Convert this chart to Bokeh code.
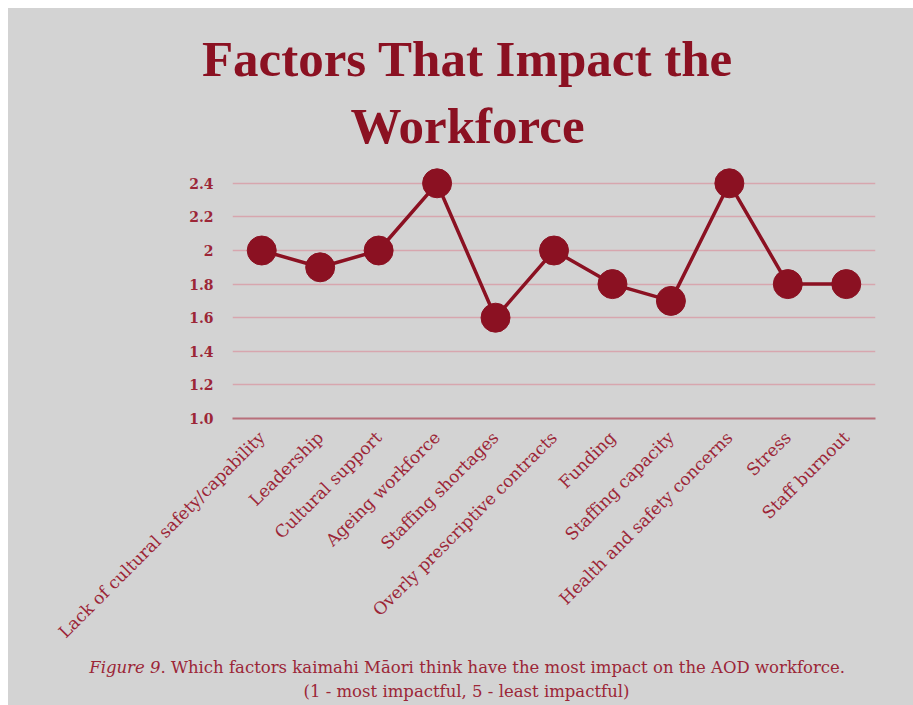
import math
from bokeh.plotting import figure
from bokeh.models import FactorRange, Range1d, FixedTicker, ColumnDataSource, Spacer
from bokeh.layouts import column, row
from bokeh.core.properties import value
from bokeh.embed import file_html
from bokeh.resources import INLINE

categories = [
    "Lack of cultural safety/capability",
    "Leadership",
    "Cultural support",
    "Ageing workforce",
    "Staffing shortages",
    "Overly prescriptive contracts",
    "Funding",
    "Staffing capacity",
    "Health and safety concerns",
    "Stress",
    "Staff burnout",
]
scores = [2.0, 1.9, 2.0, 2.4, 1.6, 2.0, 1.8, 1.7, 2.4, 1.8, 1.8]
y_ticks = [1.0, 1.2, 1.4, 1.6, 1.8, 2.0, 2.2, 2.4]
y_tick_labels = ["1.0", "1.2", "1.4", "1.6", "1.8", "2", "2.2", "2.4"]

title_lines = ["Factors That Impact the", "Workforce"]
caption_italic = "Figure 9"
caption_rest = ". Which factors kaimahi M\u0101ori think have the most impact on the AOD workforce."
caption_line2 = "(1 - most impactful, 5 - least impactful)"

BG = "#d3d3d3"
DARK = "#8b1122"
TXT = "#9c2637"
GRID = "#d7a6ae"
W = 905


def no_align(f):
    try:
        f.frame_align = False
    except Exception:
        pass
    return f


def text_panel(height):
    f = figure(width=W, height=height, x_range=Range1d(0, W), y_range=Range1d(height, 0),
               x_axis_type=None, y_axis_type=None, output_backend="svg",
               toolbar_location=None, background_fill_color=None, border_fill_color=BG,
               outline_line_color=None, min_border=0)
    f.grid.visible = False
    return no_align(f)


# ---- title panel (page y 8..158)
top = text_panel(150)
top.text(x=[459, 459], y=[50, 117], text=title_lines,
         text_align="center", text_baseline="alphabetic",
         text_font=value("Liberation Serif"), text_font_style="bold",
         text_font_size="51px", text_color=DARK)

# ---- main chart (page y 158..654)
src = ColumnDataSource(dict(cat=categories, val=scores))
p = figure(
    width=W, height=496,
    x_range=FactorRange(factors=categories, range_padding=0),
    y_range=Range1d(1.0, 2.5),
    output_backend="svg", toolbar_location=None,
    background_fill_color=None, border_fill_color=BG,
    min_border_left=224, min_border_right=38,
    min_border_top=8, min_border_bottom=236,
    outline_line_color=None,
)
no_align(p)
p.line("cat", "val", source=src, line_color=DARK, line_width=3.5)
p.scatter("cat", "val", source=src, size=29, fill_color=DARK, line_color=DARK)

p.yaxis.ticker = FixedTicker(ticks=y_ticks)
p.yaxis.major_label_overrides = dict(zip(y_ticks, y_tick_labels))
p.yaxis.axis_line_color = None
p.yaxis.major_tick_line_color = None
p.yaxis.minor_tick_line_color = None
p.yaxis.major_label_standoff = 13
p.yaxis.major_label_text_font = "DejaVu Serif"
p.yaxis.major_label_text_font_size = "14px"
p.yaxis.major_label_text_font_style = "bold"
p.yaxis.major_label_text_color = TXT

p.xaxis.axis_line_color = "#b86f7a"
p.xaxis.axis_line_width = 2
p.xaxis.major_tick_line_color = None
p.xaxis.minor_tick_line_color = None
p.xaxis.major_label_orientation = math.pi / 4
p.xaxis.major_label_standoff = 10
p.xaxis.major_label_text_font = "DejaVu Serif"
p.xaxis.major_label_text_font_size = "17px"
p.xaxis.major_label_text_color = TXT

p.xgrid.grid_line_color = None
p.ygrid.grid_line_color = GRID
p.ygrid.grid_line_width = 1.5

# ---- caption panel (page y 654..705)
bot = text_panel(51)
bot.text(x=[152], y=[13], text=[caption_italic], text_align="right",
         text_baseline="alphabetic", text_font=value("DejaVu Serif"),
         text_font_style="italic", text_font_size="16.5px", text_color=TXT)
bot.text(x=[152], y=[13], text=[caption_rest], text_align="left",
         text_baseline="alphabetic", text_font=value("DejaVu Serif"),
         text_font_size="16.5px", text_color=TXT)
bot.text(x=[458], y=[37], text=[caption_line2], text_align="center",
         text_baseline="alphabetic", text_font=value("DejaVu Serif"),
         text_font_size="16.5px", text_color=TXT)

inner = column(top, p, bot, spacing=0, styles={"background-color": BG})
layout = column(Spacer(width=913, height=8),
                row(Spacer(width=8, height=697), inner, spacing=0),
                spacing=0)

open("out.html", "w").write(file_html(layout, INLINE))
